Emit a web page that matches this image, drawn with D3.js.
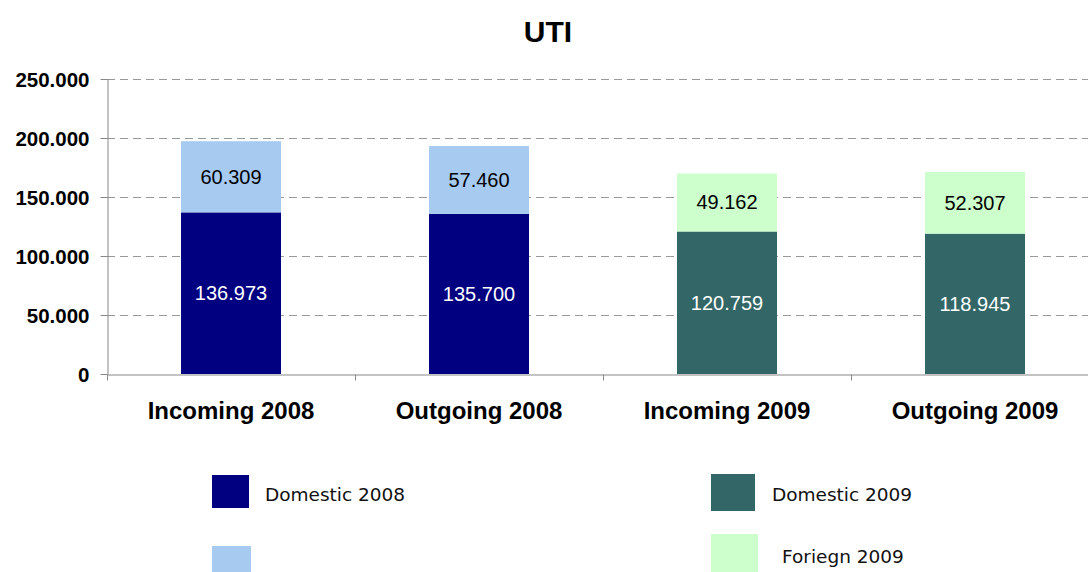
<!DOCTYPE html>
<html>
<head>
<meta charset="utf-8">
<script src="https://d3js.org/d3.v7.min.js"></script>
<style>
  body { margin: 0; background: #fff; }
  text { font-family: Arial, "Liberation Sans", sans-serif; }
</style>
</head>
<body>
<div id="cont"></div>
<script>
    var categories = ["Incoming 2008", "Outgoing 2008", "Incoming 2009", "Outgoing 2009"];
    var domestic = [136.973, 135.700, 120.759, 118.945];
    var foreign = [60.309, 57.460, 49.162, 52.307];
    var years = ["2008", "2008", "2009", "2009"];
    var yTicks = [0, 50, 100, 150, 200, 250];
    var legendItems = [
        {label: "Domestic 2008", color: "#000080"},
        {label: "", color: "#A6CAF0"},
        {label: "Domestic 2009", color: "#336666"},
        {label: "Foriegn 2009", color: "#CCFFCC"}
    ];

    var domColor = {"2008": "#000080", "2009": "#336666"};
    var forColor = {"2008": "#A6CAF0", "2009": "#CCFFCC"};

    var width = 1088, height = 572;
    var plotLeft = 107, plotBottom = 374, plotTop = 79;

    var svg = d3.select("#cont").append("svg")
        .attr("width", width)
        .attr("height", height);

    var x = d3.scaleBand()
        .domain(categories)
        .range([plotLeft, plotLeft + 4 * 248])
        .paddingInner(0)
        .paddingOuter(0);

    var y = d3.scaleLinear()
        .domain([0, 250])
        .range([plotBottom, plotTop]);

    var fmt = function(v) { return v == 0 ? "0" : d3.format(".3f")(v); };

    // gridlines
    svg.append("g").selectAll("line")
        .data(yTicks.filter(function(d) { return d > 0; }))
        .enter().append("line")
        .attr("x1", plotLeft).attr("x2", width)
        .attr("y1", function(d) { return Math.round(y(d)) + 0.5; })
        .attr("y2", function(d) { return Math.round(y(d)) + 0.5; })
        .attr("stroke", "#999")
        .attr("stroke-dasharray", "8,5");

    // y axis
    var yAxis = svg.append("g")
        .attr("transform", "translate(" + (plotLeft + 0.5) + ",0)")
        .call(d3.axisLeft(y).tickValues(yTicks).tickFormat(fmt).tickSize(7).tickSizeOuter(0));
    yAxis.select(".domain").attr("stroke", "#888");
    yAxis.selectAll(".tick line").attr("stroke", "#888");
    yAxis.selectAll(".tick text")
        .attr("x", -18)
        .attr("dy", "0.36em")
        .style("font-size", "20.5px")
        .style("font-weight", "bold")
        .attr("fill", "#000")
        .attr("font-family", "Arial, 'Liberation Sans', sans-serif");

    // x axis
    var xAxis = svg.append("g")
        .attr("transform", "translate(0," + (plotBottom + 0.5) + ")")
        .call(d3.axisBottom(x).tickSize(0).tickSizeOuter(0));
    xAxis.select(".domain").attr("stroke", "#888");
    xAxis.selectAll(".tick text")
        .attr("y", 44.5)
        .attr("dy", 0)
        .style("font-size", "24px")
        .style("font-weight", "bold")
        .attr("fill", "#000")
        .attr("font-family", "Arial, 'Liberation Sans', sans-serif");
    // category separators
    xAxis.selectAll(".sep")
        .data(d3.range(categories.length + 1))
        .enter().append("line")
        .attr("x1", function(i) { return plotLeft + i * x.bandwidth() + 0.5; })
        .attr("x2", function(i) { return plotLeft + i * x.bandwidth() + 0.5; })
        .attr("y1", 0).attr("y2", 6)
        .attr("stroke", "#888");

    var barW = 100;
    var bars = svg.append("g").selectAll("g")
        .data(categories)
        .enter().append("g");

    bars.append("rect")
        .attr("x", function(d) { return x(d) + (x.bandwidth() - barW) / 2; })
        .attr("width", barW)
        .attr("y", function(d, i) { return y(domestic[i]); })
        .attr("height", function(d, i) { return y(0) - y(domestic[i]); })
        .attr("fill", function(d, i) { return domColor[years[i]]; });

    bars.append("rect")
        .attr("x", function(d) { return x(d) + (x.bandwidth() - barW) / 2; })
        .attr("width", barW)
        .attr("y", function(d, i) { return y(domestic[i] + foreign[i]); })
        .attr("height", function(d, i) { return y(domestic[i]) - y(domestic[i] + foreign[i]); })
        .attr("fill", function(d, i) { return forColor[years[i]]; });

    bars.append("text")
        .attr("x", function(d) { return x(d) + x.bandwidth() / 2; })
        .attr("y", function(d, i) { return y(domestic[i] / 2) + 7; })
        .attr("text-anchor", "middle")
        .style("font-size", "20px")
        .attr("fill", "#fff")
        .text(function(d, i) { return fmt(domestic[i]); });

    bars.append("text")
        .attr("x", function(d) { return x(d) + x.bandwidth() / 2; })
        .attr("y", function(d, i) { return y(domestic[i] + foreign[i] / 2) + 7; })
        .attr("text-anchor", "middle")
        .style("font-size", "20px")
        .attr("fill", "#000")
        .text(function(d, i) { return fmt(foreign[i]); });

    // title
    svg.append("text")
        .attr("x", 548).attr("y", 42)
        .attr("text-anchor", "middle")
        .style("font-size", "30px")
        .style("font-weight", "bold")
        .text("UTI");

    // legend
    var legPos = [
        {rx: 212, ry: 475, rw: 37, rh: 33, tx: 265, ty: 501},
        {rx: 212, ry: 546, rw: 39, rh: 30, tx: 265, ty: 563},
        {rx: 711, ry: 474, rw: 44, rh: 37, tx: 772, ty: 501},
        {rx: 711, ry: 534, rw: 47, rh: 40, tx: 782, ty: 563}
    ];
    var leg = svg.append("g").selectAll("g")
        .data(legendItems)
        .enter().append("g");
    leg.append("rect")
        .attr("x", function(d, i) { return legPos[i].rx; })
        .attr("y", function(d, i) { return legPos[i].ry; })
        .attr("width", function(d, i) { return legPos[i].rw; })
        .attr("height", function(d, i) { return legPos[i].rh; })
        .attr("fill", function(d) { return d.color; });
    leg.append("text")
        .attr("x", function(d, i) { return legPos[i].tx; })
        .attr("y", function(d, i) { return legPos[i].ty; })
        .style("font-size", "18.5px")
        .style("font-family", "Tahoma, 'DejaVu Sans', sans-serif")
        .attr("fill", "#111")
        .text(function(d) { return d.label; });
</script>
</body>
</html>
